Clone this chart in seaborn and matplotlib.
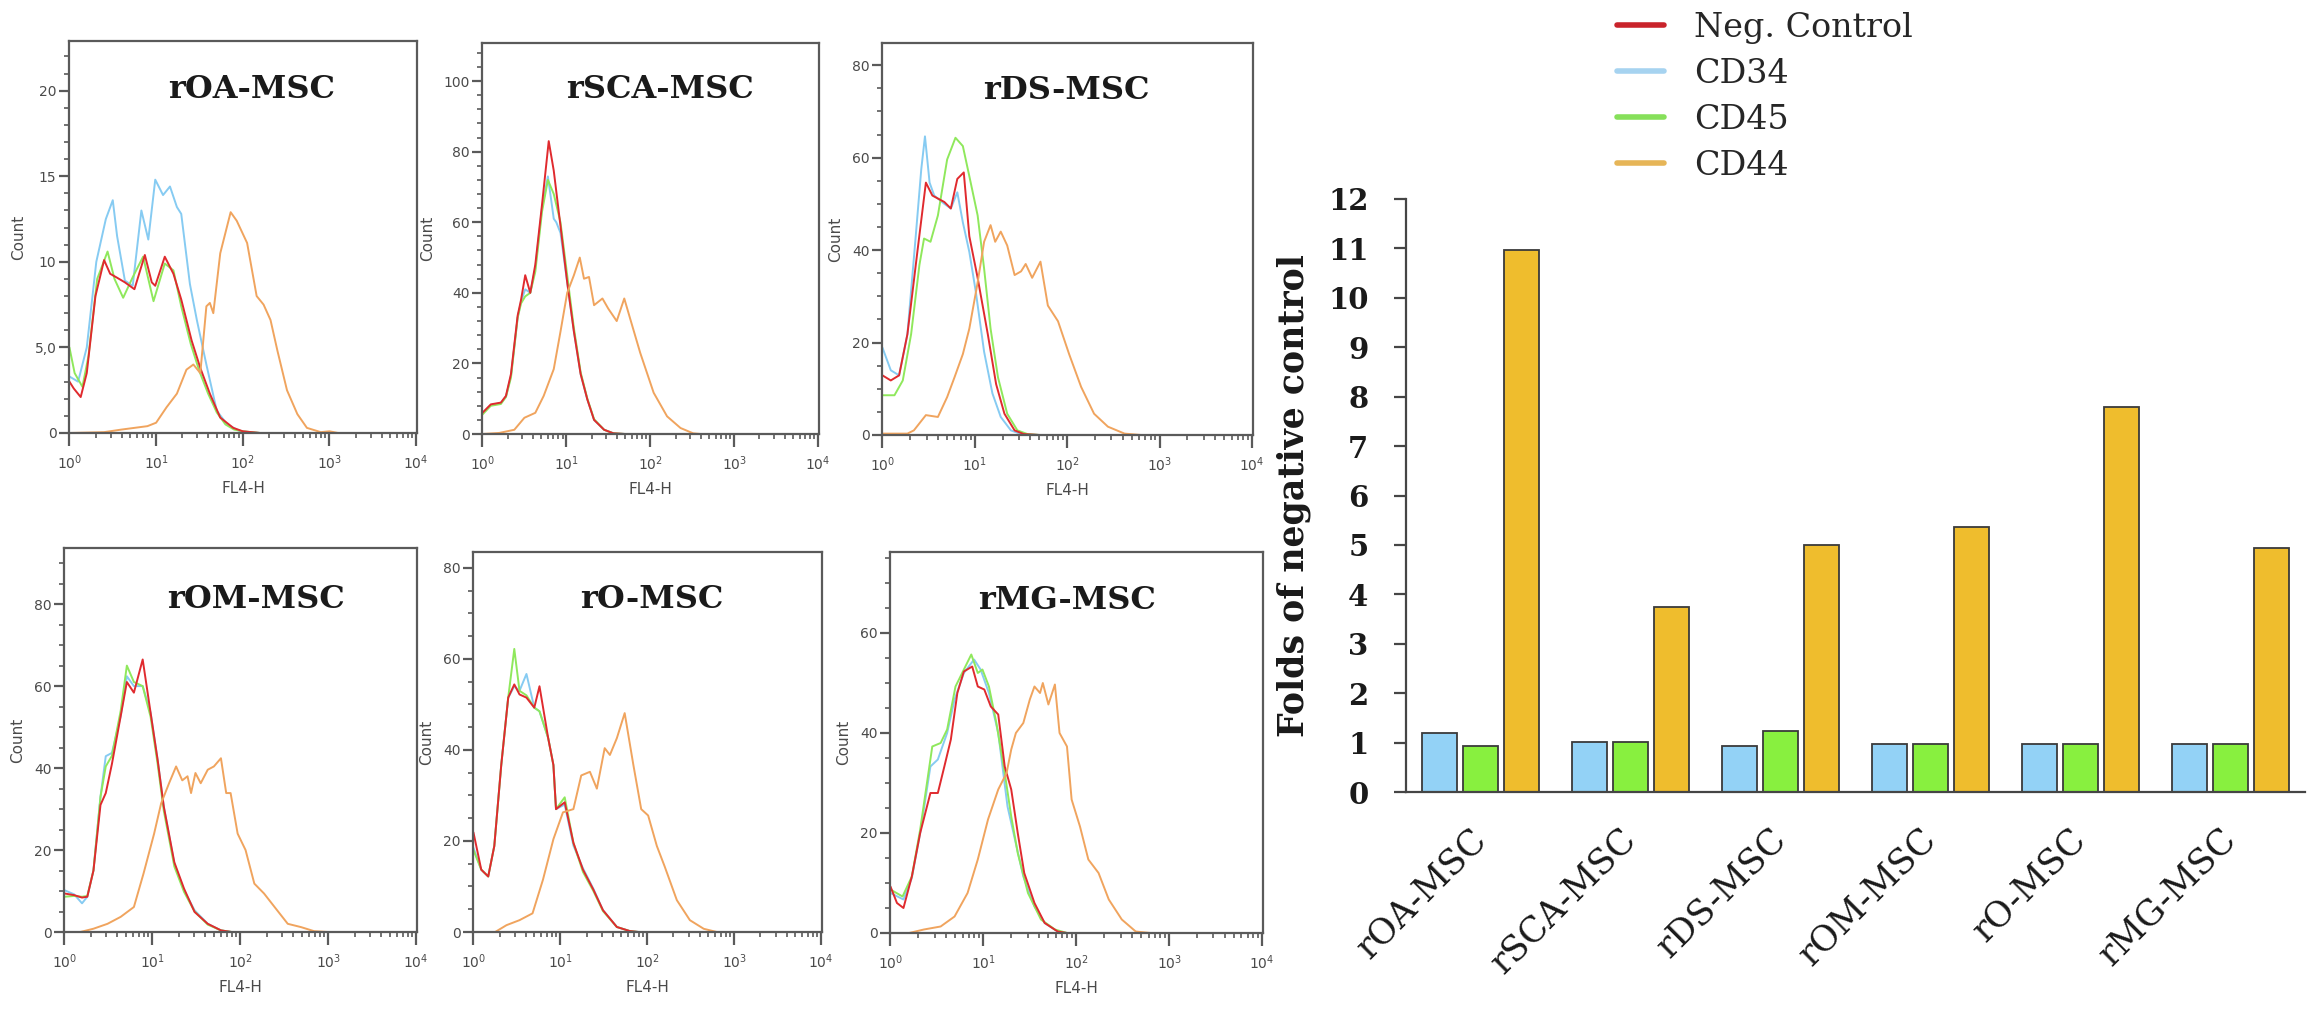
import numpy as np
import pandas as pd
import matplotlib
matplotlib.use("Agg")
import matplotlib.pyplot as plt
from matplotlib.ticker import LogLocator, MultipleLocator, NullFormatter
from matplotlib.lines import Line2D
import seaborn as sns

# histogram traces: (log10 FL4-H, count)
OA_NEG = [(0.0, 3.0), (0.05, 2.6), (0.13, 2.1), (0.2, 3.5), (0.3, 8.0), (0.4, 10.1), (0.47, 9.3), (0.54, 9.1),
          (0.64, 8.8), (0.75, 8.4), (0.87, 10.4), (0.95, 8.8), (0.99, 8.6), (1.1, 10.3), (1.2, 9.3), (1.29, 7.8),
          (1.41, 5.4), (1.51, 3.8), (1.62, 2.3), (1.74, 0.9), (1.89, 0.3), (2.0, 0.1), (2.2, 0), (4.0, 0)]
OA_CD34 = [(0.0, 3.3), (0.1, 3.0), (0.2, 5.0), (0.31, 10.0), (0.42, 12.5), (0.5, 13.6), (0.55, 11.5), (0.64, 8.9),
           (0.73, 8.6), (0.83, 13.0), (0.91, 11.3), (0.99, 14.8), (1.08, 13.9), (1.16, 14.4), (1.24, 13.2),
           (1.29, 12.8), (1.39, 8.7), (1.47, 6.6), (1.58, 4.0), (1.7, 1.3), (1.82, 0.5), (1.97, 0.1), (2.2, 0), (4.0, 0)]
OA_CD45 = [(0.0, 5.0), (0.06, 3.5), (0.15, 2.7), (0.22, 4.5), (0.32, 9.0), (0.44, 10.6), (0.52, 9.0), (0.62, 7.9),
           (0.73, 9.1), (0.85, 10.3), (0.97, 7.7), (1.1, 9.9), (1.2, 9.5), (1.29, 7.4), (1.4, 5.2), (1.5, 3.6),
           (1.6, 2.3), (1.7, 1.2), (1.8, 0.5), (1.9, 0.2), (2.0, 0.1), (2.2, 0), (4.0, 0)]
OA_CD44 = [(0.0, 0), (0.4, 0.05), (0.6, 0.2), (0.9, 0.4), (1.0, 0.6), (1.12, 1.5), (1.24, 2.3), (1.35, 3.7),
           (1.43, 4.0), (1.51, 3.5), (1.58, 7.4), (1.62, 7.6), (1.66, 7.0), (1.74, 10.5), (1.86, 12.9), (1.93, 12.4),
           (2.05, 11.1), (2.16, 8.0), (2.24, 7.5), (2.32, 6.6), (2.4, 4.8), (2.51, 2.5), (2.63, 1.1), (2.74, 0.3),
           (2.9, 0.05), (3.0, 0.1), (3.1, 0), (4.0, 0)]

SCA_NEG = [(0.0, 6), (0.1, 8.4), (0.22, 8.9), (0.28, 10.8), (0.34, 17), (0.42, 33.6), (0.46, 38), (0.51, 45),
           (0.57, 40), (0.63, 48), (0.71, 65), (0.79, 83), (0.85, 74.6), (0.93, 59), (1.01, 43), (1.09, 29),
           (1.17, 17), (1.25, 9.8), (1.33, 4), (1.45, 1.2), (1.56, 0.2), (1.7, 0), (4.0, 0)]
SCA_CD34 = [(0.0, 6), (0.1, 8.2), (0.22, 8.8), (0.28, 10.5), (0.34, 16.5), (0.42, 33), (0.46, 37.5), (0.51, 41),
            (0.57, 40), (0.63, 47), (0.71, 64), (0.78, 73), (0.85, 61), (0.88, 60), (0.93, 57), (1.01, 43),
            (1.09, 29), (1.17, 17), (1.25, 9.8), (1.33, 4), (1.45, 1.2), (1.56, 0.2), (1.7, 0), (4.0, 0)]
SCA_CD45 = [(0.0, 5.5), (0.1, 8), (0.22, 8.5), (0.28, 10.5), (0.34, 16), (0.42, 33), (0.46, 37), (0.51, 39),
            (0.57, 40), (0.63, 46), (0.71, 63), (0.78, 72), (0.85, 68), (0.93, 60), (1.01, 45), (1.09, 30),
            (1.17, 17.5), (1.25, 10), (1.33, 4.2), (1.45, 1.2), (1.56, 0.2), (1.7, 0), (4.0, 0)]
SCA_CD44 = [(0.0, 0), (0.2, 0.3), (0.38, 1.2), (0.5, 4.6), (0.63, 6), (0.73, 10.8), (0.85, 18.4), (0.93, 29),
            (1.01, 40), (1.09, 45), (1.16, 50), (1.21, 44), (1.27, 44.5), (1.33, 36.5), (1.43, 38.4), (1.5, 35.5),
            (1.6, 32), (1.69, 38.4), (1.76, 32.7), (1.88, 23), (2.04, 11.7), (2.2, 5), (2.36, 1.7), (2.51, 0.2),
            (2.6, 0), (4.0, 0)]

DS_NEG = [(0.0, 12.9), (0.09, 11.8), (0.18, 12.9), (0.27, 21.8), (0.38, 40), (0.47, 54.6), (0.54, 51.8),
          (0.67, 50.4), (0.74, 49), (0.81, 55.4), (0.88, 56.8), (0.94, 43), (1.03, 34), (1.14, 21.8), (1.23, 11),
          (1.32, 4.6), (1.43, 1), (1.53, 0.2), (1.7, 0), (4.0, 0)]
DS_CD34 = [(0.0, 18.9), (0.09, 14), (0.18, 12.9), (0.27, 21.8), (0.36, 43), (0.42, 57.5), (0.46, 64.6),
           (0.51, 54.6), (0.56, 51.8), (0.67, 50), (0.74, 49), (0.81, 52.5), (0.87, 46), (0.94, 39.6), (1.01, 31),
           (1.1, 18), (1.19, 9), (1.28, 3.9), (1.39, 1), (1.5, 0.2), (1.7, 0), (4.0, 0)]
DS_CD45 = [(0.0, 8.6), (0.13, 8.6), (0.22, 11.8), (0.31, 21.8), (0.4, 36.8), (0.45, 42.5), (0.52, 41.8),
           (0.6, 47.5), (0.7, 59.6), (0.79, 64.3), (0.87, 62.5), (0.94, 56), (1.03, 47.5), (1.1, 36), (1.17, 23),
           (1.25, 12.5), (1.35, 4.6), (1.46, 1), (1.57, 0.2), (1.7, 0), (4.0, 0)]
DS_CD44 = [(0.0, 0.3), (0.27, 0.3), (0.34, 1), (0.47, 4.3), (0.6, 3.9), (0.7, 8.2), (0.78, 12.5), (0.87, 17.5),
           (0.94, 23), (1.03, 33), (1.1, 41.8), (1.17, 45.4), (1.22, 41.8), (1.28, 44), (1.35, 41), (1.43, 34.6),
           (1.5, 35.4), (1.55, 37), (1.62, 34), (1.71, 37.5), (1.79, 28), (1.9, 24.6), (2.02, 17.5), (2.15, 10.4),
           (2.29, 4.6), (2.44, 1.8), (2.62, 0.3), (2.8, 0), (4.0, 0)]

OM_NEG = [(0.0, 9.4), (0.11, 9), (0.2, 8.4), (0.26, 8.6), (0.33, 15), (0.41, 31), (0.47, 33.9), (0.54, 41),
          (0.64, 52.7), (0.71, 61), (0.79, 58.4), (0.89, 66.5), (0.98, 53.5), (1.06, 42), (1.13, 30.6), (1.25, 17),
          (1.36, 10.6), (1.48, 4.9), (1.63, 2), (1.78, 0.4), (1.9, 0), (4.0, 0)]
OM_CD34 = [(0.0, 10.2), (0.11, 9.2), (0.2, 7), (0.26, 8.6), (0.33, 15), (0.41, 33), (0.47, 42.9), (0.54, 43.7),
           (0.64, 52.7), (0.71, 62.4), (0.79, 60), (0.89, 60), (0.98, 53.5), (1.06, 42), (1.13, 30.6),
           (1.25, 16.7), (1.36, 10.2), (1.48, 5.3), (1.63, 2), (1.78, 0.4), (1.9, 0), (4.0, 0)]
OM_CD45 = [(0.0, 8.6), (0.11, 8.8), (0.2, 8.6), (0.26, 8.8), (0.33, 15), (0.41, 33), (0.47, 40.4), (0.54, 43),
           (0.64, 54), (0.71, 65), (0.79, 61), (0.89, 60), (0.98, 52.5), (1.06, 41), (1.13, 29.6), (1.25, 16),
           (1.36, 9.8), (1.48, 5), (1.63, 1.8), (1.78, 0.4), (1.9, 0), (4.0, 0)]
OM_CD44 = [(0.0, 0), (0.18, 0), (0.33, 0.8), (0.49, 2), (0.64, 3.7), (0.79, 6.1), (0.9, 14.3), (1.02, 24),
           (1.1, 31.4), (1.19, 36.3), (1.27, 40.4), (1.34, 37), (1.4, 38), (1.44, 33.9), (1.49, 38.8), (1.55, 36.3),
           (1.63, 39.6), (1.7, 40.4), (1.78, 42.4), (1.84, 33.9), (1.89, 33.9), (1.97, 24), (2.06, 20), (2.16, 11.8),
           (2.27, 9.4), (2.39, 6.1), (2.54, 2), (2.69, 1.2), (2.84, 0.2), (3.0, 0), (4.0, 0)]

O_NEG = [(0.0, 21.9), (0.09, 13.7), (0.17, 12.2), (0.24, 18.9), (0.32, 36.7), (0.4, 51.5), (0.47, 54.4),
         (0.53, 52.2), (0.61, 51.5), (0.7, 49.3), (0.76, 54), (0.86, 42.6), (0.92, 36.7), (0.95, 27),
         (1.05, 28.5), (1.15, 19.6), (1.26, 13.7), (1.38, 9.3), (1.49, 4.8), (1.65, 1.1), (1.8, 0.2), (1.9, 0),
         (4.0, 0)]
O_CD34 = [(0.0, 18.5), (0.09, 13.7), (0.17, 12.2), (0.24, 18.9), (0.32, 36.7), (0.4, 51.5), (0.47, 54),
          (0.53, 53), (0.61, 56.7), (0.7, 49.3), (0.76, 48.5), (0.86, 42.6), (0.92, 36.7), (0.95, 27), (1.05, 28),
          (1.15, 19), (1.26, 14), (1.38, 9.5), (1.49, 4.8), (1.65, 1.1), (1.8, 0.2), (1.9, 0), (4.0, 0)]
O_CD45 = [(0.0, 18), (0.09, 13.7), (0.17, 12.2), (0.24, 18.9), (0.32, 36.7), (0.4, 51.5), (0.47, 62.2),
          (0.53, 53), (0.61, 52), (0.7, 49.3), (0.76, 48.5), (0.86, 42.6), (0.92, 36.7), (0.95, 27),
          (1.05, 29.6), (1.15, 19.6), (1.26, 13.2), (1.38, 9), (1.49, 4.6), (1.65, 1.1), (1.8, 0.2), (1.9, 0),
          (4.0, 0)]
O_CD44 = [(0.0, 0), (0.25, 0), (0.38, 1.5), (0.53, 2.6), (0.68, 4.1), (0.8, 11.5), (0.92, 20.4), (1.03, 26.3),
          (1.15, 27), (1.24, 34.4), (1.34, 35.2), (1.42, 31.5), (1.51, 40.4), (1.57, 38.9), (1.65, 42.6),
          (1.74, 48.1), (1.84, 36.7), (1.93, 27), (2.01, 25.6), (2.11, 18.9), (2.2, 14.4), (2.34, 7), (2.49, 2.6),
          (2.65, 0.7), (2.8, 0), (4.0, 0)]

MG_NEG = [(0.0, 9.3), (0.07, 6), (0.14, 5), (0.23, 11.3), (0.32, 20), (0.43, 28), (0.51, 28), (0.58, 33.3),
          (0.65, 38.7), (0.72, 48), (0.79, 52.3), (0.88, 53.3), (0.94, 49.3), (1.01, 48.7), (1.08, 45.3),
          (1.16, 43.7), (1.23, 33.3), (1.3, 28.7), (1.37, 20), (1.44, 12), (1.55, 6), (1.66, 2), (1.8, 0.3),
          (1.9, 0), (4.0, 0)]
MG_CD34 = [(0.0, 8), (0.14, 6.7), (0.23, 11), (0.32, 20), (0.43, 33.3), (0.51, 34.7), (0.61, 40), (0.69, 46.7),
           (0.79, 52), (0.9, 54.7), (0.97, 52.7), (1.06, 48), (1.16, 40), (1.26, 25.3), (1.34, 18.7), (1.43, 11.3),
           (1.55, 5.3), (1.66, 2), (1.8, 0.3), (1.9, 0), (4.0, 0)]
MG_CD45 = [(0.0, 8.7), (0.13, 7.3), (0.23, 11.3), (0.32, 20.7), (0.45, 37.3), (0.54, 38), (0.61, 40.7),
           (0.7, 49.3), (0.87, 55.7), (0.94, 52), (0.99, 52.7), (1.06, 49.3), (1.14, 42), (1.23, 32), (1.3, 23.3),
           (1.37, 16), (1.48, 8), (1.62, 2.7), (1.77, 0.7), (1.9, 0), (4.0, 0)]
MG_CD44 = [(0.0, 0), (0.2, 0), (0.36, 0.7), (0.54, 1.3), (0.69, 3.3), (0.83, 8), (0.94, 14.7), (1.05, 22.7),
           (1.16, 28.7), (1.25, 32), (1.3, 36.7), (1.35, 40), (1.43, 42), (1.5, 46.7), (1.55, 49.3), (1.61, 48),
           (1.64, 50), (1.7, 45.7), (1.77, 49.7), (1.82, 40), (1.9, 37.3), (1.95, 26.7), (2.04, 21.3), (2.13, 14.7),
           (2.24, 12), (2.35, 6.7), (2.49, 2.7), (2.64, 0.3), (2.8, 0), (4.0, 0)]

# bar chart
CELL_LINES = ["rOA-MSC", "rSCA-MSC", "rDS-MSC", "rOM-MSC", "rO-MSC", "rMG-MSC"]
CD34_FOLD = [1.19, 1.02, 0.94, 0.98, 0.98, 0.98]
CD45_FOLD = [0.94, 1.02, 1.24, 0.98, 0.98, 0.98]
CD44_FOLD = [10.97, 3.75, 4.99, 5.36, 7.79, 4.93]

MARKERS = ["Neg. Control", "CD34", "CD45", "CD44"]
LINE_COLORS = {"Neg. Control": "#e02a2e", "CD34": "#86cbf2", "CD45": "#8fe85c", "CD44": "#f0a45e"}
LEGEND_COLORS = ["#c9232b", "#a6d3f0", "#86e05a", "#e6b557"]
BAR_COLORS = {"CD34": "#93d2f6", "CD45": "#88f03f", "CD44": "#efbd2d"}

sns.set_theme(style="white")
plt.rcParams["font.family"] = ["DejaVu Sans"]

W, H = 2310, 1036
fig = plt.figure(figsize=(W / 100, H / 100), dpi=100)


def px_rect(x0, x1, top, bottom):
    return [x0 / W, (H - bottom) / H, (x1 - x0) / W, (bottom - top) / H]


panels = [
    dict(name="rOA-MSC", data=(OA_NEG, OA_CD34, OA_CD45, OA_CD44), rect=(69, 417, 41, 433), ymax=22.9,
         major=5, minor=1, labels=["0", "5,0", "10", "15", "20"], title=(0.526, 0.875)),
    dict(name="rSCA-MSC", data=(SCA_NEG, SCA_CD34, SCA_CD45, SCA_CD44), rect=(482, 819, 43, 434), ymax=110.8,
         major=20, minor=4, labels=None, title=(0.528, 0.88)),
    dict(name="rDS-MSC", data=(DS_NEG, DS_CD34, DS_CD45, DS_CD44), rect=(882, 1253, 43, 435), ymax=84.8,
         major=20, minor=5, labels=None, title=(0.496, 0.88)),
    dict(name="rOM-MSC", data=(OM_NEG, OM_CD34, OM_CD45, OM_CD44), rect=(64, 417, 548, 932), ymax=93.7,
         major=20, minor=5, labels=None, title=(0.544, 0.865)),
    dict(name="rO-MSC", data=(O_NEG, O_CD34, O_CD45, O_CD44), rect=(473, 822, 552, 932), ymax=83.5,
         major=20, minor=5, labels=None, title=(0.513, 0.874)),
    dict(name="rMG-MSC", data=(MG_NEG, MG_CD34, MG_CD45, MG_CD44), rect=(890, 1263, 552, 933), ymax=76.2,
         major=20, minor=5, labels=None, title=(0.474, 0.874)),
]

axis_grey = "#5a5a5a"
for p in panels:
    ax = fig.add_axes(px_rect(*p["rect"]))
    # draw order: CD34, CD45, neg control, CD44
    for idx in (1, 2, 0, 3):
        df = pd.DataFrame(p["data"][idx], columns=["log", "count"])
        df["FL4-H"] = 10 ** df["log"]
        sns.lineplot(data=df, x="FL4-H", y="count", ax=ax, color=LINE_COLORS[MARKERS[idx]],
                     lw=1.4, sort=False, estimator=None)
    ax.set_xscale("log")
    ax.set_xlim(10 ** -0.005, 10 ** 4.01)
    ax.set_ylim(0, p["ymax"])
    ax.xaxis.set_major_locator(LogLocator(base=10, numticks=10))
    ax.xaxis.set_minor_locator(LogLocator(base=10, subs=np.arange(2, 10), numticks=20))
    ax.xaxis.set_minor_formatter(NullFormatter())
    ax.yaxis.set_major_locator(MultipleLocator(p["major"]))
    ax.yaxis.set_minor_locator(MultipleLocator(p["minor"]))
    if p["labels"]:
        ax.set_yticks([0, 5, 10, 15, 20], p["labels"])
    ax.tick_params(axis="both", which="major", direction="out", length=7, width=1.6, color=axis_grey,
                   labelsize=10, labelcolor="#4a4a4a", pad=2, bottom=True, left=True)
    ax.tick_params(axis="both", which="minor", direction="out", length=3.5, width=1.2, color=axis_grey,
                   bottom=True, left=True)
    ax.tick_params(axis="x", which="major", length=9, pad=6)
    for s in ax.spines.values():
        s.set_color(axis_grey)
        s.set_linewidth(1.6)
    ax.set_xlabel("FL4-H", fontsize=11, color="#4a4a4a", labelpad=6)
    ax.set_ylabel("Count", fontsize=11, color="#4a4a4a", labelpad=6)
    ax.text(p["title"][0], p["title"][1], p["name"], transform=ax.transAxes, ha="center", va="center",
            fontsize=23, fontweight="bold", family="DejaVu Serif", color="#1a1a1a")

# fold-change bar chart
bar_df = pd.DataFrame({
    "cell": CELL_LINES * 3,
    "marker": ["CD34"] * 6 + ["CD45"] * 6 + ["CD44"] * 6,
    "fold": CD34_FOLD + CD45_FOLD + CD44_FOLD,
})
bax = fig.add_axes(px_rect(1406, 2305, 199, 792))
sns.barplot(data=bar_df, x="cell", y="fold", hue="marker", hue_order=["CD34", "CD45", "CD44"],
            palette=BAR_COLORS, saturation=1, width=0.82, gap=0.146, errorbar=None, edgecolor="#3a3a3a",
            linewidth=1.3, legend=False, ax=bax)
bax.set_xlim(-0.5, 5.5)
bax.set_ylim(0, 12)
bax.set_yticks(range(0, 13))
sns.despine(ax=bax)
for side in ("left", "bottom"):
    bax.spines[side].set_color("#454545")
    bax.spines[side].set_linewidth(1.6)
bax.tick_params(axis="y", direction="out", length=9, width=1.6, color="#454545", pad=18, left=True)
bax.tick_params(axis="x", length=0, pad=30)
for lab in bax.get_yticklabels():
    lab.set_fontfamily("DejaVu Serif")
    lab.set_fontweight("bold")
    lab.set_fontsize(21)
    lab.set_color("#1a1a1a")
bax.set_xticks(range(len(CELL_LINES)), CELL_LINES, rotation=45, ha="right", va="center",
               rotation_mode="anchor", fontsize=25, family="DejaVu Serif", color="#1a1a1a")
bax.set_xlabel("")
bax.set_ylabel("Folds of negative control", fontsize=25, fontweight="bold", family="DejaVu Serif",
               color="#1a1a1a", labelpad=12)

handles = [Line2D([], [], color=c, lw=4) for c in LEGEND_COLORS]
fig.legend(handles, MARKERS, loc="upper left", bbox_to_anchor=(1617 / W, 1 - 12 / H), frameon=False,
           prop={"family": "DejaVu Serif", "size": 24}, handlelength=1.4, handletextpad=0.9,
           labelspacing=0.42, borderpad=0, borderaxespad=0)

fig.savefig("out.png", dpi=100)
